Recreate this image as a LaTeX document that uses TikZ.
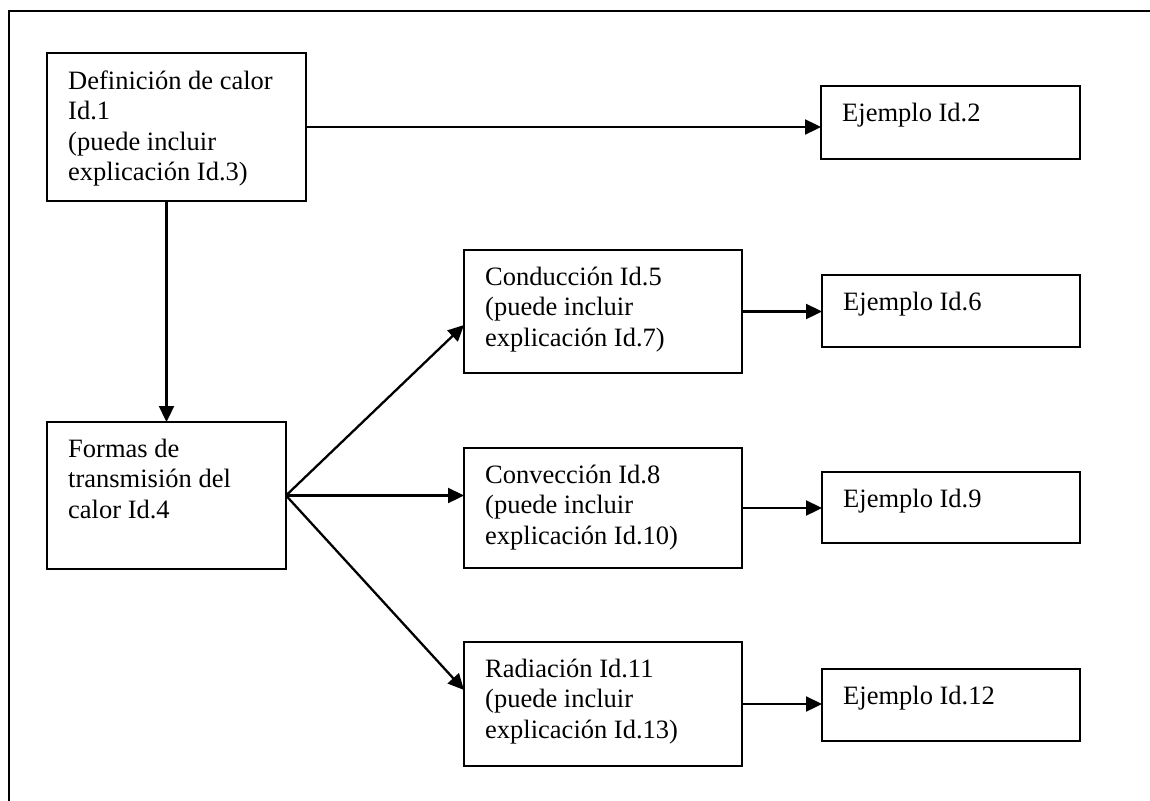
\documentclass[tikz,border=0pt]{standalone}
\usepackage{fontspec}
\setmainfont{Liberation Serif}
\usetikzlibrary{arrows.meta}
\newcommand\figfont{\fontsize{26.5pt}{30.5pt}\selectfont}
\newcommand\tstrut{\rule{0pt}{25pt}}
\tikzset{
  box/.style={draw, line width=2pt, inner sep=0pt, outer sep=0pt},
  txt/.style={anchor=north west, inner sep=0pt, align=left, font=\figfont},
  conn/.style={line width=2.3pt, -{Triangle[length=16pt,width=15pt]}},
  frame/.style={line width=2.8pt}
}
\begin{document}
\begin{tikzpicture}[x=1pt,y=-1pt]
\useasboundingbox (0,0) rectangle (1150,800);
\fill[white] (0,0) rectangle (1150,800);
% outer frame (open to right and bottom)
\coordinate (fbl) at (9,805);
\coordinate (ftl) at (9,11);
\coordinate (ftr) at (1155,11);
\draw[frame] (fbl) -- (ftl) -- (ftr);

% boxes
\node[box, minimum width=259pt, minimum height=148pt] (b1) at (176.5,127) {};
\node[box, minimum width=259pt, minimum height=73pt]  (b2) at (950.5,122.5) {};
\node[box, minimum width=239pt, minimum height=147pt] (b4) at (166.5,495.5) {};
\node[box, minimum width=278pt, minimum height=123pt] (b5) at (603,311.5) {};
\node[box, minimum width=258pt, minimum height=72pt]  (b6) at (951,311) {};
\node[box, minimum width=278pt, minimum height=120pt] (b8) at (603,508) {};
\node[box, minimum width=258pt, minimum height=71pt]  (b9) at (951,507.5) {};
\node[box, minimum width=278pt, minimum height=124pt] (b11) at (603,704) {};
\node[box, minimum width=258pt, minimum height=72pt]  (b12) at (951,705) {};

% texts
\node[txt] (t1) at ([shift={(21,11)}]b1.north west) {\tstrut Definición de calor\\Id.1\\(puede incluir\\explicación Id.3)};
\node[txt] (t2) at ([shift={(21,10)}]b2.north west) {\tstrut Ejemplo Id.2};
\node[txt] (t4) at ([shift={(21,10)}]b4.north west) {\tstrut Formas de\\transmisión del\\calor Id.4};
\node[txt] (t5) at ([shift={(21,10)}]b5.north west) {\tstrut Conducción Id.5\\(puede incluir\\explicación Id.7)};
\node[txt] (t6) at ([shift={(21,10)}]b6.north west) {\tstrut Ejemplo Id.6};
\node[txt] (t8) at ([shift={(21,10)}]b8.north west) {\tstrut Convección Id.8\\(puede incluir\\explicación Id.10)};
\node[txt] (t9) at ([shift={(21,10)}]b9.north west) {\tstrut Ejemplo Id.9};
\node[txt] (t11) at ([shift={(21,10)}]b11.north west) {\tstrut Radiación Id.11\\(puede incluir\\explicación Id.13)};
\node[txt] (t12) at ([shift={(21,10)}]b12.north west) {\tstrut Ejemplo Id.12};

% connectors
\draw[conn] (b1.east) -- (b1.east -| b2.west);
\draw[conn] (b1.south -| b4.north) -- (b4.north);
\draw[conn] (b4.east) -- ([yshift=-13.5pt]b5.west);
\draw[conn] (b4.east) -- (b4.east -| b8.west);
\draw[conn] (b4.east) -- ([yshift=14pt]b11.west);
\draw[conn] (b5.east) -- (b5.east -| b6.west);
\draw[conn] (b8.east) -- (b8.east -| b9.west);
\draw[conn] (b11.east) -- (b11.east -| b12.west);
\end{tikzpicture}
\end{document}
